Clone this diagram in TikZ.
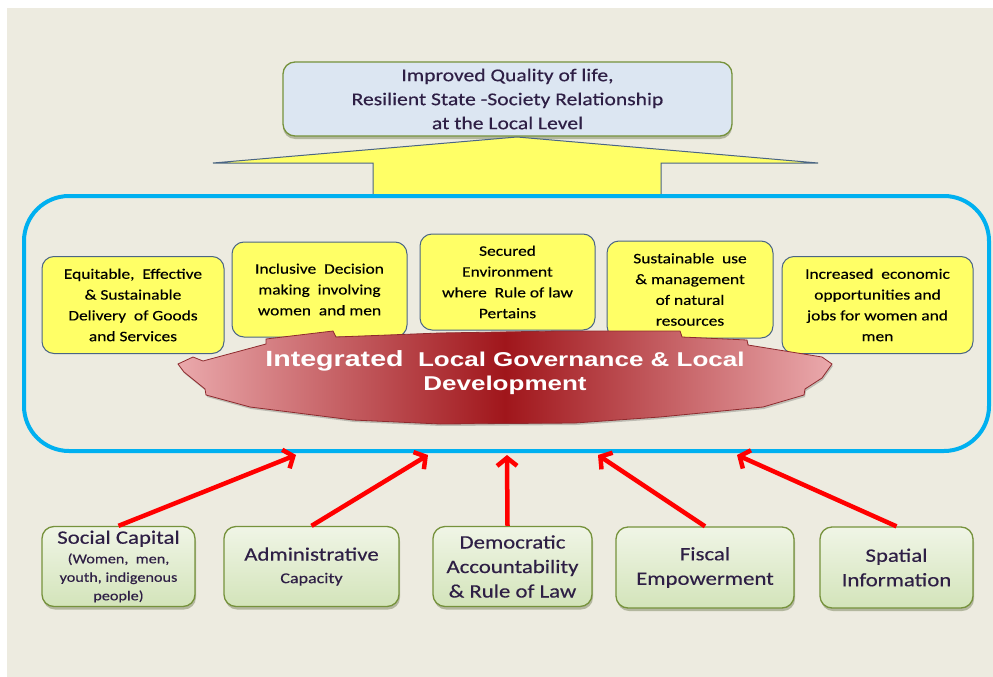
\documentclass[tikz,border=0pt]{standalone}
\usepackage{fontspec}
\setmainfont{Carlito}[FakeStretch=1.2,FakeBold=0.35]
\newfontfamily\bannerfont{Liberation Sans}[FakeStretch=1.3]
\usetikzlibrary{arrows.meta,shadows}

\definecolor{pagebg}{HTML}{EDEBE0}
\definecolor{goalfill}{HTML}{DCE6F2}
\definecolor{olive}{HTML}{76923C}
\definecolor{inktext}{HTML}{2E1F45}
\definecolor{sunny}{HTML}{FFFF66}
\definecolor{slate}{HTML}{4A6585}
\definecolor{skyline}{HTML}{00B0F0}
\definecolor{redpale}{HTML}{EAA9AC}
\definecolor{reddeep}{HTML}{A0161B}
\definecolor{rededge}{HTML}{8E2A2E}
\definecolor{greentop}{HTML}{F0F5E6}
\definecolor{greenbot}{HTML}{D3E4BA}
\definecolor{pillarred}{HTML}{FF0000}

\newcommand{\subline}{\fontsize{13.5}{18.5}\selectfont}
\newcommand{\capline}{\fontsize{15}{18}\selectfont}
\newcommand{\bigword}{\fontsize{22}{24}\selectfont}

\tikzset{
  goalbox/.style={draw=olive, line width=1.3pt, fill=goalfill, rounded corners=12pt,
    drop shadow={shadow xshift=0pt, shadow yshift=-3pt, fill=olive!60!black, opacity=0.35},
    text=inktext, align=center, font=\fontsize{18}{24}\selectfont},
  upbig/.style={fill=sunny, draw=slate, line width=1pt, line join=miter},
  frame/.style={draw=skyline, line width=4pt, rounded corners=45pt},
  outcome/.style={draw=slate, line width=1pt, fill=sunny, rounded corners=12pt,
    align=center, text=black, font=\fontsize{14.5}{20.8}\selectfont},
  bannerbody/.style={draw=rededge, line width=0.8pt, left color=redpale, right color=redpale, middle color=reddeep,
    drop shadow={shadow xshift=1pt, shadow yshift=-2pt, fill=black, opacity=0.2}},
  bannertext/.style={text=white, align=center, font=\bannerfont\bfseries\fontsize{20}{24}\selectfont},
  pillar/.style={draw=olive, line width=1.3pt, top color=greentop, bottom color=greenbot,
    rounded corners=12pt,
    drop shadow={shadow xshift=1pt, shadow yshift=-3pt, fill=olive!60!black, opacity=0.35},
    text=inktext, align=center, font=\fontsize{19}{24.5}\selectfont},
  feed/.style={draw=pillarred, line width=4.5pt, -{Straight Barb[length=8pt,width=20pt]}}
}

\begin{document}
\begin{tikzpicture}[x=1pt,y=-1pt]
\useasboundingbox (0,0) rectangle (993,677);
\fill[white] (0,0) rectangle (993,677);
\fill[pagebg] (7,8) rectangle (993,677);

% goal at the top
\node[goalbox, minimum width=449pt, minimum height=74pt] (goal) at (507.5,99)
  {Improved Quality of life,\\Resilient State -Society Relationship\\at the Local Level};

% broad upward arrow into the goal
\filldraw[upbig] (373,197) -- (373,163) -- (213,163) -- (517,137) -- (818,163) -- (661,163) -- (661,197);

% frame holding the outcomes
\node[frame, minimum width=965pt, minimum height=255pt] (frame) at (506.5,323.5) {};

% outcome boxes
\node[outcome, minimum width=182pt, minimum height=97pt] (o1) at (133,305)
  {Equitable,\ \ Effective\\\& Sustainable\\Delivery\ \ of Goods\\and Services};
\node[outcome, minimum width=175pt, minimum height=95pt] (o2) at (319.5,289.5)
  {Inclusive\ \ Decision\\making\ \ involving\\women\ \ and men};
\node[outcome, minimum width=175pt, minimum height=96pt] (o3) at (507.5,282)
  {Secured\\Environment\\where\ \ Rule of law\\Pertains};
\node[outcome, minimum width=166pt, minimum height=97pt] (o4) at (690,289.5)
  {Sustainable\ \ use\\\& management\\of natural\\resources};
\node[outcome, minimum width=191pt, minimum height=97pt] (o5) at (877.5,305)
  {Increased\ \ economic\\opportunities and\\jobs for women and\\men};

% integrated governance banner, laid over the outcome boxes
\shade[bannerbody] (178,364) -- (193,357) -- (203,361) -- (266,344) -- (266,339) -- (333,331)
  -- (336,337) -- (440,333) -- (560,331) -- (680,331) -- (682,337) -- (747,340) -- (748,345)
  -- (822,357) -- (832,364) -- (822,378) -- (805,389) -- (804,395) -- (763,407) -- (660,417)
  -- (575,423) -- (440,424) -- (353,420) -- (250,407) -- (206,395) -- (205,389) -- (184,372) -- cycle;

\node[bannertext] (core) at (505,373)
  {{\bigword Integrated}\ \ Local Governance \& Local\\Development};

% pillars at the bottom
\node[pillar, minimum width=153pt, minimum height=80pt] (p1) at (118.5,566.5)
  {Social Capital\\[-5pt]{\subline (Women,\ \ men,}\\[-6pt]{\subline youth,\ indigenous}\\[-6pt]{\subline people)}};
\node[pillar, minimum width=175pt, minimum height=80pt] (p2) at (311.5,566.5)
  {Administrative\\[-2pt]{\capline Capacity}};
\node[pillar, minimum width=159pt, minimum height=80pt] (p3) at (512.5,566.5)
  {Democratic\\Accountability\\\& Rule of Law};
\node[pillar, minimum width=178pt, minimum height=81pt] (p4) at (705,567.5)
  {Fiscal\\Empowerment};
\node[pillar, minimum width=153pt, minimum height=81pt] (p5) at (896.5,567.5)
  {Spatial\\Information};

% where the pillars meet the frame
\coordinate (e1) at (296,455);
\coordinate (e2) at (428,455);
\coordinate (e3) at (507,455);
\coordinate (e4) at (598,455);
\coordinate (e5) at (737,455);

\draw[feed] (p1.north) -- (e1);
\draw[feed] (p2.north) -- (e2);
\draw[feed] ([xshift=-5pt]p3.north) -- (e3);
\draw[feed] (p4.north) -- (e4);
\draw[feed] (p5.north) -- (e5);
\end{tikzpicture}
\end{document}
